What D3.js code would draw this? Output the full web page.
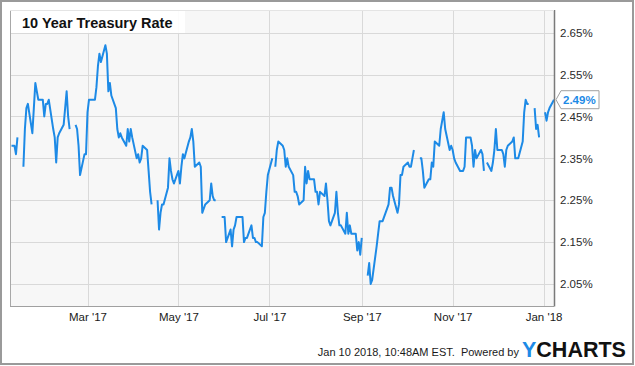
<!DOCTYPE html>
<html><head><meta charset="utf-8">
<script src="https://cdn.jsdelivr.net/npm/d3@7"></script>
<style>
html,body{margin:0;padding:0;background:#fff;}
svg{display:block;font-family:"Liberation Sans",Arial,sans-serif;}
</style>
</head><body>
<svg id="chart" width="635" height="366"></svg>
<script>
const chartTitle = "10 Year Treasury Rate";
const dates = [
"2017-01-09","2017-01-10","2017-01-11","2017-01-12","2017-01-13","2017-01-16","2017-01-17","2017-01-18","2017-01-19","2017-01-20","2017-01-23","2017-01-24","2017-01-25","2017-01-26","2017-01-27","2017-01-30","2017-01-31",
"2017-02-01","2017-02-02","2017-02-03","2017-02-06","2017-02-07","2017-02-08","2017-02-09","2017-02-10","2017-02-13","2017-02-14","2017-02-15","2017-02-16","2017-02-17","2017-02-20","2017-02-21","2017-02-22","2017-02-23","2017-02-24","2017-02-27","2017-02-28",
"2017-03-01","2017-03-02","2017-03-03","2017-03-06","2017-03-07","2017-03-08","2017-03-09","2017-03-10","2017-03-13","2017-03-14","2017-03-15","2017-03-16","2017-03-17","2017-03-20","2017-03-21","2017-03-22","2017-03-23","2017-03-24","2017-03-27","2017-03-28","2017-03-29","2017-03-30","2017-03-31",
"2017-04-03","2017-04-04","2017-04-05","2017-04-06","2017-04-07","2017-04-10","2017-04-11","2017-04-12","2017-04-13","2017-04-14","2017-04-17","2017-04-18","2017-04-19","2017-04-20","2017-04-21","2017-04-24","2017-04-25","2017-04-26","2017-04-27","2017-04-28",
"2017-05-01","2017-05-02","2017-05-03","2017-05-04","2017-05-05","2017-05-08","2017-05-09","2017-05-10","2017-05-11","2017-05-12","2017-05-15","2017-05-16","2017-05-17","2017-05-18","2017-05-19","2017-05-22","2017-05-23","2017-05-24","2017-05-25","2017-05-26","2017-05-29","2017-05-30","2017-05-31",
"2017-06-01","2017-06-02","2017-06-05","2017-06-06","2017-06-07","2017-06-08","2017-06-09","2017-06-12","2017-06-13","2017-06-14","2017-06-15","2017-06-16","2017-06-19","2017-06-20","2017-06-21","2017-06-22","2017-06-23","2017-06-26","2017-06-27","2017-06-28","2017-06-29","2017-06-30",
"2017-07-03","2017-07-04","2017-07-05","2017-07-06","2017-07-07","2017-07-10","2017-07-11","2017-07-12","2017-07-13","2017-07-14","2017-07-17","2017-07-18","2017-07-19","2017-07-20","2017-07-21","2017-07-24","2017-07-25","2017-07-26","2017-07-27","2017-07-28","2017-07-31",
"2017-08-01","2017-08-02","2017-08-03","2017-08-04","2017-08-07","2017-08-08","2017-08-09","2017-08-10","2017-08-11","2017-08-14","2017-08-15","2017-08-16","2017-08-17","2017-08-18","2017-08-21","2017-08-22","2017-08-23","2017-08-24","2017-08-25","2017-08-28","2017-08-29","2017-08-30","2017-08-31",
"2017-09-01","2017-09-04","2017-09-05","2017-09-06","2017-09-07","2017-09-08","2017-09-11","2017-09-12","2017-09-13","2017-09-14","2017-09-15","2017-09-18","2017-09-19","2017-09-20","2017-09-21","2017-09-22","2017-09-25","2017-09-26","2017-09-27","2017-09-28","2017-09-29",
"2017-10-02","2017-10-03","2017-10-04","2017-10-05","2017-10-06","2017-10-09","2017-10-10","2017-10-11","2017-10-12","2017-10-13","2017-10-16","2017-10-17","2017-10-18","2017-10-19","2017-10-20","2017-10-23","2017-10-24","2017-10-25","2017-10-26","2017-10-27","2017-10-30","2017-10-31",
"2017-11-01","2017-11-02","2017-11-03","2017-11-06","2017-11-07","2017-11-08","2017-11-09","2017-11-10","2017-11-13","2017-11-14","2017-11-15","2017-11-16","2017-11-17","2017-11-20","2017-11-21","2017-11-22","2017-11-23","2017-11-24","2017-11-27","2017-11-28","2017-11-29","2017-11-30",
"2017-12-01","2017-12-04","2017-12-05","2017-12-06","2017-12-07","2017-12-08","2017-12-11","2017-12-12","2017-12-13","2017-12-14","2017-12-15","2017-12-18","2017-12-19","2017-12-20","2017-12-21","2017-12-22","2017-12-25","2017-12-26","2017-12-27","2017-12-28","2017-12-29",
"2018-01-01","2018-01-02","2018-01-03","2018-01-04","2018-01-05","2018-01-08"
];
const rates = [
2.38,2.38,2.38,2.36,2.40,null,2.33,2.42,2.47,2.48,2.41,2.47,2.53,2.51,2.49,2.49,2.45,
2.48,2.48,2.49,2.42,2.40,2.34,2.40,2.41,2.43,2.47,2.51,2.45,2.42,null,2.43,2.42,2.38,2.31,2.36,2.36,
2.46,2.49,2.49,2.49,2.52,2.57,2.60,2.58,2.62,2.60,2.51,2.53,2.50,2.47,2.42,2.40,2.41,2.40,2.38,2.42,2.39,2.42,2.40,
2.35,2.36,2.34,2.35,2.38,2.37,2.32,2.27,2.24,null,2.25,2.18,2.22,2.24,2.24,2.28,2.35,2.32,2.30,2.29,
2.32,2.29,2.33,2.36,2.35,2.39,2.40,2.42,2.39,2.33,2.34,2.33,2.22,2.23,2.24,2.25,2.29,2.26,2.25,2.25,null,2.21,2.21,
2.21,2.15,2.18,2.14,2.18,2.19,2.21,2.21,2.21,2.15,2.16,2.16,2.19,2.16,2.16,2.15,2.15,2.14,2.21,2.22,2.27,2.31,
2.35,null,2.33,2.37,2.39,2.38,2.37,2.33,2.35,2.33,2.31,2.27,2.27,2.26,2.24,2.25,2.33,2.29,2.32,2.30,2.30,
2.27,2.27,2.24,2.27,2.26,2.29,2.25,2.20,2.19,2.22,2.27,2.22,2.19,2.19,2.17,2.22,2.17,2.19,2.17,2.17,2.13,2.15,2.12,
2.16,null,2.07,2.10,2.05,2.06,2.14,2.17,2.20,2.20,2.20,2.23,2.24,2.28,2.28,2.26,2.22,2.24,2.31,2.31,2.33,
2.34,2.33,2.33,2.35,2.37,null,2.35,2.35,2.32,2.28,2.30,2.30,2.34,2.33,2.39,2.38,2.42,2.44,2.46,2.42,2.37,2.38,
2.37,2.35,2.34,2.32,2.32,2.32,2.33,2.40,2.40,2.38,2.33,2.37,2.35,2.37,2.36,2.32,null,2.34,2.32,2.34,2.37,2.42,
2.37,2.37,2.36,2.33,2.37,2.38,2.39,2.40,2.35,2.35,2.35,2.39,2.46,2.49,2.48,2.48,null,2.47,2.42,2.43,2.40,
null,2.46,2.44,2.46,2.47,2.49
];
const yTicks = [2.05, 2.15, 2.25, 2.35, 2.45, 2.55, 2.65];
const xTicks = ["2017-03-01","2017-05-01","2017-07-01","2017-09-01","2017-11-01","2018-01-01"];
const xDomain = ["2017-01-08","2018-01-08"];
const lastValueLabel = "2.49%";
const footerText = "Jan 10 2018, 10:48AM EST.  Powered by";
const logoY = "Y", logoRest = "CHARTS";

const parse = d3.timeParse("%Y-%m-%d");
const data = dates.map((d, i) => ({date: parse(d), v: rates[i]}));

const L = 10, R = 554, T = 10, B = 306;
const blue = "#1d8ae6";

const x = d3.scaleTime().domain(xDomain.map(parse)).range([L, R]);
const y = d3.scaleLinear().domain([2.05, 2.65]).range([284, 32.7]);

const svg = d3.select("#chart");

// outer frame
svg.append("rect").attr("x", 1).attr("y", 1).attr("width", 632).attr("height", 363)
  .attr("fill", "#fff").attr("stroke", "#9a9a9a").attr("stroke-width", 2);

// plot background
svg.append("rect").attr("x", L).attr("y", T).attr("width", R - L).attr("height", B - T)
  .attr("fill", "#f7f7f7");

// horizontal gridlines
svg.append("g").selectAll("line").data(yTicks).join("line")
  .attr("x1", L).attr("x2", R)
  .attr("y1", d => Math.round(y(d)) + 0.5).attr("y2", d => Math.round(y(d)) + 0.5)
  .attr("stroke", "#d9d9d9").attr("stroke-width", 1);

// vertical gridlines
svg.append("g").selectAll("line").data(xTicks.map(parse)).join("line")
  .attr("x1", d => Math.round(x(d)) + 0.5).attr("x2", d => Math.round(x(d)) + 0.5)
  .attr("y1", T).attr("y2", B)
  .attr("stroke", "#d9d9d9").attr("stroke-width", 1);

// title box
svg.append("rect").attr("x", L).attr("y", T).attr("width", 175).attr("height", 23)
  .attr("fill", "#fff").attr("fill-opacity", 0.92);
svg.append("text").attr("x", 22).attr("y", 27.5)
  .attr("font-size", 14.5).attr("font-weight", "bold").attr("fill", "#111")
  .text(chartTitle);

// line
const line = d3.line().defined(d => d.v != null).x(d => x(d.date)).y(d => y(d.v));
svg.append("path").datum(data).attr("d", line)
  .attr("fill", "none").attr("stroke", blue).attr("stroke-width", 2)
  .attr("stroke-linejoin", "round").attr("stroke-linecap", "butt");

// plot borders
svg.append("line").attr("x1", L + 0.5).attr("x2", L + 0.5).attr("y1", T).attr("y2", B + 0.5)
  .attr("stroke", "#a8a8a8");
svg.append("line").attr("x1", L).attr("x2", R).attr("y1", B + 0.5).attr("y2", B + 0.5)
  .attr("stroke", "#a0a0a0");
svg.append("line").attr("x1", R + 0.5).attr("x2", R + 0.5).attr("y1", T).attr("y2", B + 0.5)
  .attr("stroke", "#7a7a7a").attr("stroke-width", 1.5);
svg.append("line").attr("x1", L).attr("x2", R).attr("y1", T + 0.5).attr("y2", T + 0.5)
  .attr("stroke", "#e4e4e4");

// y axis (right)
const yAxis = d3.axisRight(y).tickValues(yTicks).tickSize(0).tickPadding(0)
  .tickFormat(d => d.toFixed(2) + "%");
const gy = svg.append("g").attr("transform", `translate(560,0)`).call(yAxis);
gy.select(".domain").remove();
gy.selectAll("text").attr("font-size", 11.5).attr("fill", "#2a2a2a")
  .attr("font-family", '"Liberation Sans",Arial,sans-serif');

// x axis
const xAxis = d3.axisBottom(x).tickValues(xTicks.map(parse)).tickSize(0).tickPadding(7)
  .tickFormat(d3.timeFormat("%b '%y"));
const gx = svg.append("g").attr("transform", `translate(0,${B})`).call(xAxis);
gx.select(".domain").remove();
gx.selectAll("text").attr("font-size", 11.5).attr("fill", "#1a1a1a")
  .attr("font-family", '"Liberation Sans",Arial,sans-serif');

// last value label
const last = data[data.length - 1];
const lx = x(last.date) + 2, ly = y(last.v);
svg.append("path")
  .attr("d", `M${lx},${ly} L${lx + 5},${ly - 9} L${lx + 43},${ly - 9} L${lx + 43},${ly + 9} L${lx + 5},${ly + 9} Z`)
  .attr("fill", "#fff").attr("stroke", "#a0a0a0").attr("stroke-width", 1);
svg.append("text").attr("x", lx + 7).attr("y", ly + 4)
  .attr("font-size", 11.5).attr("font-weight", "bold").attr("fill", blue)
  .text(lastValueLabel);

// footer
svg.append("text").attr("x", 519).attr("y", 356).attr("text-anchor", "end")
  .attr("font-size", 11).attr("fill", "#1a1a1a").attr("xml:space", "preserve")
  .style("white-space", "pre").text(footerText);
const logo = svg.append("text").attr("x", 522).attr("y", 357)
  .attr("font-size", 21.5).attr("font-weight", "bold");
logo.append("tspan").attr("fill", blue).text(logoY);
logo.append("tspan").attr("fill", "#111").text(logoRest);
</script>
</body></html>
